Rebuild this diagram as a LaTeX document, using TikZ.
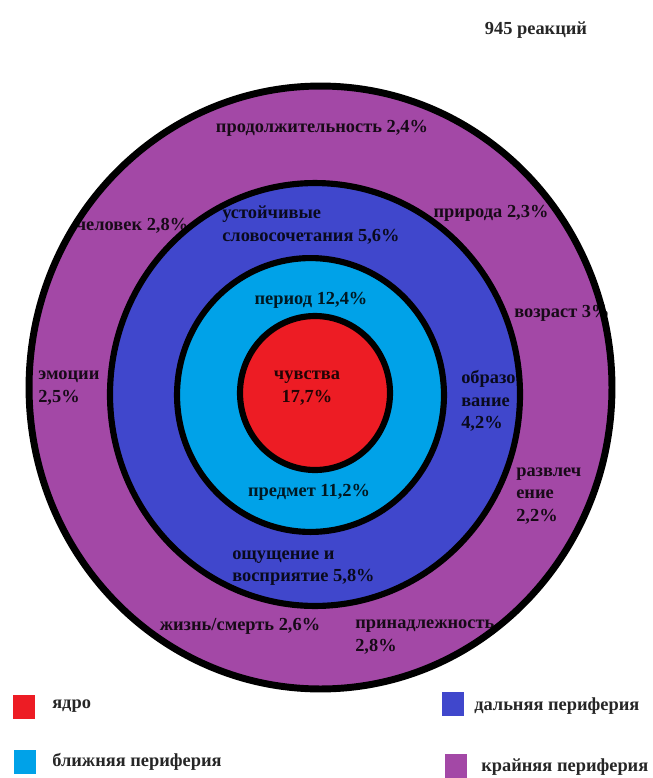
\documentclass[tikz,border=0pt]{standalone}
\usepackage{fontspec}
\setmainfont{Liberation Serif}
\definecolor{cPurple}{HTML}{A348A6}
\definecolor{cBlue}{HTML}{4047CC}
\definecolor{cCyan}{HTML}{00A2E8}
\definecolor{cRed}{HTML}{ED1C24}
\tikzset{
  ringline/.style={line width=4.6pt, draw=black},
  outerline/.style={line width=5.2pt, draw=black},
  lbl/.style={font=\bfseries\fontsize{13.8}{16.8}\selectfont, text opacity=0.85, inner sep=0pt},
  lblL/.style={lbl, align=left, anchor=west},
  lblC/.style={lbl, align=center},
  keybox/.style={inner sep=0pt, minimum width=16.5pt, minimum height=17.5pt}
}
\begin{document}
\begin{tikzpicture}[x=0.75pt, y=-0.75pt]
\useasboundingbox (0,0) rectangle (653,778);
% fills
\fill[cPurple] (320.5,387.5) ellipse [x radius=218.6pt, y radius=226.1pt];
\fill[cBlue] (315,394.5) ellipse [x radius=153.75pt, y radius=158.6pt];
\fill[cCyan] (310.5,395) ellipse [x radius=100.1pt, y radius=102.7pt];
\fill[cRed] (315,393) ellipse [x radius=56.25pt, y radius=57.75pt];
% labels
\node[lblC] (count) at (536,30) {945 реакций};
\node[lblC] (prod) at (322,128) {продолжительность 2,4\%};
\node[lblC] (chel) at (132,226) {человек 2,8\%};
\node[lblL] (ustoi) at (222,225) {устойчивые\\словосочетания 5,6\%};
\node[lblC] (prir) at (491,213) {природа 2,3\%};
\node[lblL] (vozr) at (514,313) {возраст 3\%};
\node[lblC] (period) at (311,300) {период 12,4\%};
\node[lblL] (emoc) at (38,388) {эмоции\\2,5\%};
\node[lblC] (chuv) at (307,388) {чувства\\17,7\%};
\node[lblL] (obraz) at (461,401) {образо\\вание\\4,2\%};
\node[lblC] (predm) at (309,492) {предмет 11,2\%};
\node[lblL] (razv) at (516,496) {развлеч\\ение\\2,2\%};
\node[lblL] (oshch) at (232,568) {ощущение и\\восприятие 5,8\%};
\node[lblC] (zhizn) at (240,626) {жизнь/смерть 2,6\%};
\node[lblL] (prin) at (355,637) {принадлежность\\2,8\%};
% outlines
\draw[outerline] (320.5,387.5) ellipse [x radius=218.6pt, y radius=226.1pt];
\draw[ringline] (315,394.5) ellipse [x radius=153.75pt, y radius=158.6pt];
\draw[ringline] (310.5,395) ellipse [x radius=100.1pt, y radius=102.7pt];
\draw[ringline] (315,393) ellipse [x radius=56.25pt, y radius=57.75pt];
% legend
\node[keybox, fill=cRed] (kRed) at (24,707) {};
\node[lblL] (tRed) at (52,706) {ядро};
\node[keybox, fill=cCyan] (kCyan) at (25,762) {};
\node[lblL] (tCyan) at (52,762) {ближняя периферия};
\node[keybox, fill=cBlue] (kBlue) at (453,704) {};
\node[lblL] (tBlue) at (474,706) {дальняя периферия};
\node[keybox, fill=cPurple] (kPurp) at (456,766) {};
\node[lblL] (tPurp) at (481,767) {крайняя периферия};
\end{tikzpicture}
\end{document}
